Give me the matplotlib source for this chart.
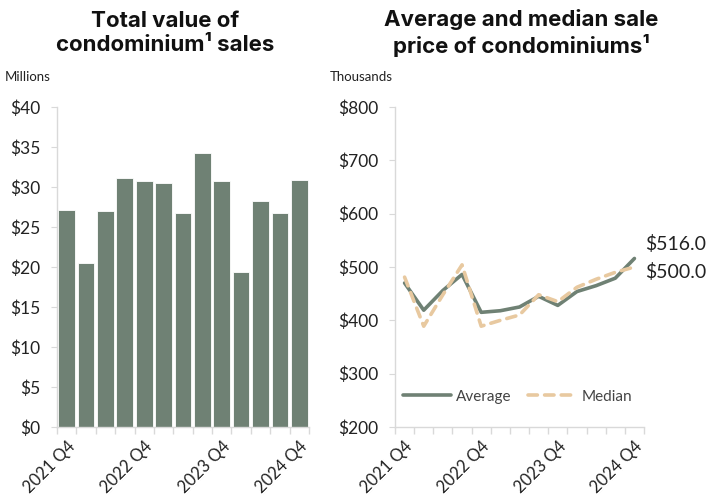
import matplotlib
matplotlib.use("Agg")
from matplotlib import pyplot as plt

quarters = ["2021 Q4", "2022 Q1", "2022 Q2", "2022 Q3", "2022 Q4", "2023 Q1", "2023 Q2",
            "2023 Q3", "2023 Q4", "2024 Q1", "2024 Q2", "2024 Q3", "2024 Q4"]
total_value = [27.1, 20.5, 27.0, 31.1, 30.7, 30.5, 26.7, 34.2, 30.7, 19.4, 28.3, 26.8, 30.9]
avg_price = [470, 419, 456, 486, 415, 418, 425, 445, 428, 454, 465, 479, 516]
median_price = [481, 389, 448, 504, 389, 400, 410, 448, 435, 462, 477, 490, 500]
shown_labels = ["2021 Q4", "2022 Q4", "2023 Q4", "2024 Q4"]

green = "#6f8174"
beige = "#e8c9a0"
grid_gray = "#d9d9d9"
text_col = "#222222"

plt.rcParams['font.family'] = ['Lato', 'DejaVu Sans']

fig = plt.figure(figsize=(7.07, 4.99), dpi=100)
ax1 = fig.add_axes([0.0806, 0.1443, 0.3564, 0.6413])
ax2 = fig.add_axes([0.5587, 0.1443, 0.3522, 0.6413])

x = list(range(len(quarters)))
label_pos = [quarters.index(q) for q in shown_labels]


def style_axis(ax):
    for side in ["top", "right"]:
        ax.spines[side].set_visible(False)
    for side in ["left", "bottom"]:
        ax.spines[side].set_color(grid_gray)
        ax.spines[side].set_linewidth(1)
    ax.set_xlim(-0.5, len(quarters) - 0.5)
    # ticks at category boundaries
    ax.set_xticks([i - 0.5 for i in range(len(quarters) + 1)], minor=True)
    ax.tick_params(axis="x", which="minor", length=5, color=grid_gray, width=1)
    ax.set_xticks(label_pos)
    ax.set_xticklabels(shown_labels, rotation=45, ha="right", rotation_mode="anchor",
                       fontsize=12, color=text_col)
    ax.tick_params(axis="x", which="major", length=0, pad=8)
    ax.tick_params(axis="y", length=4, color=grid_gray, labelsize=12.5, labelcolor=text_col, pad=8)


# left: bars
ax1.bar(x, total_value, width=0.86, color=green, edgecolor="white", linewidth=0.6)
ax1.set_ylim(0, 40)
ax1.set_yticks(range(0, 41, 5))
ax1.set_yticklabels(["$%d" % v for v in range(0, 41, 5)])
style_axis(ax1)

# right: lines
ax2.plot(x, avg_price, color=green, linewidth=2.6, label="Average", solid_capstyle="round")
ax2.plot(x, median_price, color=beige, linewidth=2.6, linestyle=(0, (2.6, 2.0)),
         dash_capstyle="round", label="Median")
ax2.set_ylim(200, 800)
ax2.set_yticks(range(200, 801, 100))
ax2.set_yticklabels(["$%d" % v for v in range(200, 801, 100)])
style_axis(ax2)
ax2.annotate("$%.1f" % avg_price[-1], (x[-1], avg_price[-1]), xytext=(8, 10.5),
             textcoords="offset points", fontsize=14, color=text_col, va="center")
ax2.annotate("$%.1f" % median_price[-1], (x[-1], median_price[-1]), xytext=(8, -3.6),
             textcoords="offset points", fontsize=14, color=text_col, va="center")
leg = ax2.legend(loc="lower left", bbox_to_anchor=(-0.025, 0.03), ncol=2, frameon=False,
                 fontsize=11, handlelength=3.2, handletextpad=0.3, columnspacing=1.1,
                 labelcolor="#444444")

title_font = ['Inter', 'Lato', 'DejaVu Sans']
fig.text(165 / 707, 1 - 33 / 499, "Total value of\ncondominium\u00b9 sales", ha="center",
         va="center", fontsize=16, fontweight="bold", color="#111111", linespacing=1.25,
         family=title_font)
fig.text(521 / 707, 1 - 33 / 499, "Average and median sale\nprice of condominiums\u00b9",
         ha="center", va="center", fontsize=16, fontweight="bold", color="#111111",
         linespacing=1.25, family=title_font)
fig.text(5 / 707, 1 - 77 / 499, "Millions", ha="left", va="center", fontsize=9.5, color=text_col)
fig.text(330 / 707, 1 - 77 / 499, "Thousands", ha="left", va="center", fontsize=9.5, color=text_col)

fig.savefig("out.png", dpi=100)
